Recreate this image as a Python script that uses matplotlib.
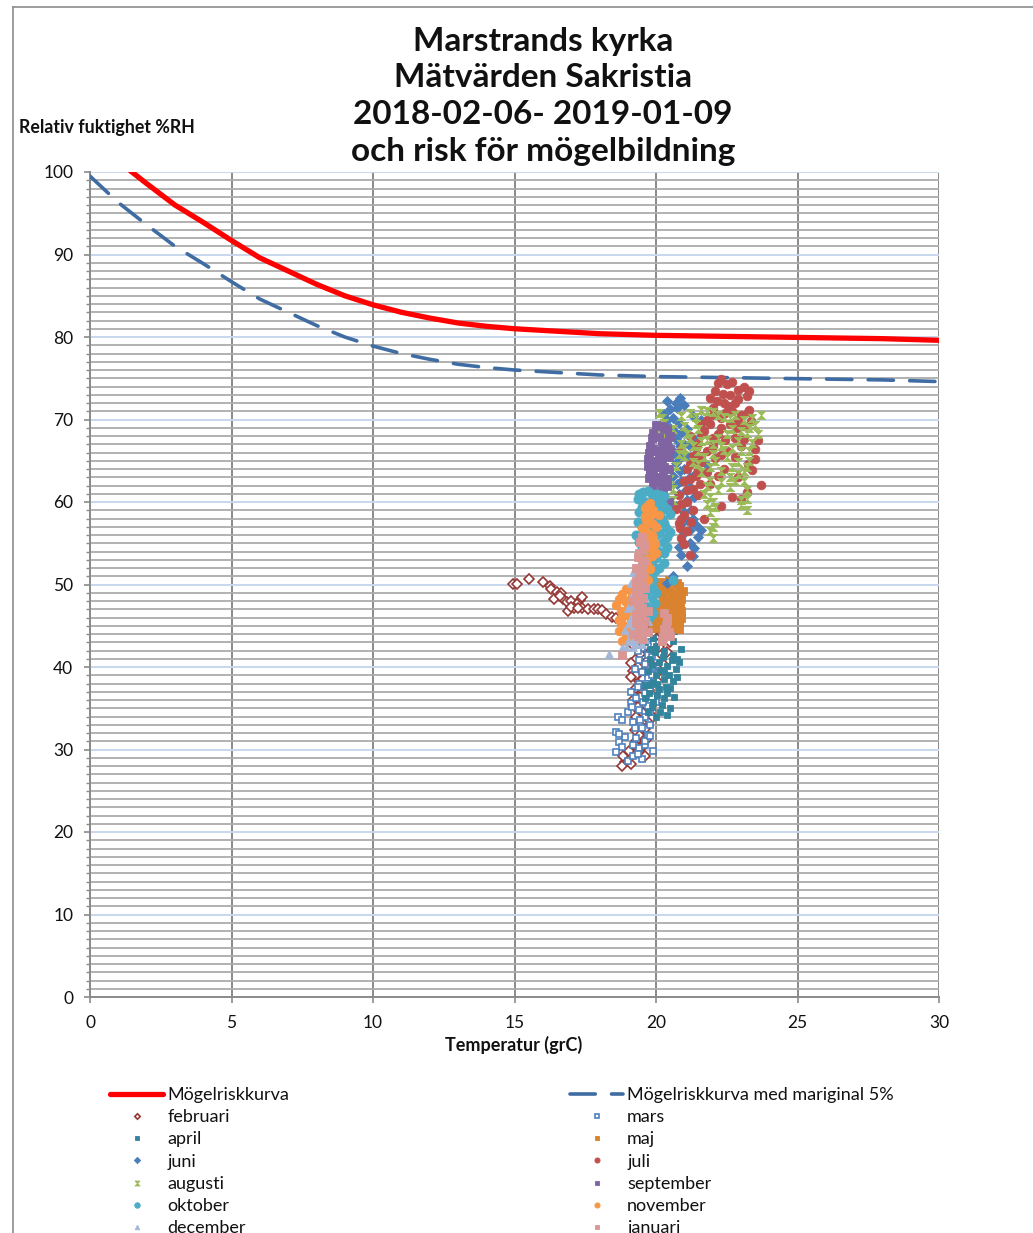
import matplotlib.pyplot as plt
import numpy as np
from matplotlib.lines import Line2D
from matplotlib.ticker import MultipleLocator

plt.rcParams["font.family"] = ["Lato", "DejaVu Sans"]

# Mould risk curve and the same curve with 5 % margin (temperature grC, RH %)
curve_t = [0, 1, 2, 3, 4, 5, 6, 7, 8, 9, 10, 11, 12, 13, 14, 15, 16, 17, 18, 19, 20, 22, 24, 26, 28, 30]
risk_rh = [104.5, 101.3, 98.6, 96.0, 93.9, 91.7, 89.6, 88.0, 86.4, 85.0, 83.9, 83.0, 82.3, 81.7, 81.3,
           81.0, 80.8, 80.6, 80.4, 80.3, 80.2, 80.1, 80.0, 79.9, 79.8, 79.6]
margin_rh = [99.5, 96.3, 93.6, 91.0, 88.9, 86.7, 84.6, 83.0, 81.4, 80.0, 78.9, 78.0, 77.3, 76.7, 76.3,
             76.0, 75.8, 75.6, 75.4, 75.3, 75.2, 75.1, 75.0, 74.9, 74.8, 74.6]

# Measured values per month (temperature, RH)
februari = [(14.95, 50.1), (15.1, 50.1), (15.5, 50.7), (16.0, 50.3), (16.25, 49.8), (16.3, 49.4),
            (16.5, 49.1), (16.65, 49.0), (16.4, 48.2), (16.7, 48.3), (16.85, 47.9), (17.0, 48.0),
            (17.3, 48.1), (17.4, 48.5), (17.2, 47.6), (16.9, 46.8), (17.1, 47.2), (17.4, 47.1),
            (17.6, 47.0), (17.8, 47.0), (17.95, 47.0), (18.1, 46.9), (18.25, 46.4), (18.45, 46.1),
            (18.6, 45.9), (16.6, 48.6), (17.0, 47.3), (17.25, 47.2), (18.75, 45.8),
            (19.5, 46.2), (19.7, 45.6), (19.4, 45.0), (19.6, 44.5), (19.9, 44.2), (20.2, 43.3),
            (20.5, 43.0), (19.3, 43.8), (19.5, 43.0), (19.4, 42.2), (19.7, 41.6), (19.3, 41.0),
            (19.5, 40.2), (19.2, 39.5), (19.6, 39.0), (19.4, 38.3), (19.3, 37.5), (19.5, 36.8),
            (19.2, 36.0), (19.6, 35.4), (19.4, 34.7), (19.3, 34.0), (19.5, 33.2), (19.6, 32.5),
            (19.4, 31.8), (19.3, 31.0), (19.5, 30.3), (19.2, 29.6), (19.0, 29.0), (18.9, 28.5),
            (18.8, 28.0), (19.1, 28.2), (19.3, 39.0), (19.7, 42.8), (20.0, 41.0), (20.3, 40.2),
            (19.8, 38.0), (19.1, 40.5), (19.9, 36.5), (20.2, 44.0), (20.1, 42.4), (19.2, 44.6),
            (19.35, 45.5), (19.55, 44.0), (19.75, 43.4), (19.45, 41.6), (19.65, 40.6), (19.35, 40.0),
            (19.55, 38.6), (19.75, 37.2), (19.45, 36.4), (19.35, 35.2), (19.55, 34.4), (19.45, 33.0),
            (19.65, 31.2), (19.35, 30.0), (19.25, 32.4), (19.7, 36.0), (19.85, 39.5), (19.1, 38.8),
            (19.15, 42.8), (19.25, 30.6), (19.0, 28.8), (18.85, 29.2), (19.05, 29.8), (20.0, 45.2),
            (20.4, 41.8), (20.25, 38.8), (19.9, 34.0), (19.6, 29.2), (20.35, 44.6), (19.95, 43.0)]
mars = [(18.65, 33.9), (18.8, 33.6), (18.6, 32.1), (18.7, 30.9), (18.8, 30.3), (18.6, 29.7),
        (19.1, 35.6), (19.0, 28.6), (19.2, 29.2), (19.4, 30.2), (19.6, 30.6), (19.3, 31.4),
        (19.7, 31.8), (19.5, 32.6), (19.2, 33.3), (19.6, 34.0), (19.4, 34.8), (19.7, 35.3),
        (19.3, 36.2), (19.6, 36.9), (19.8, 37.5), (19.4, 38.0), (19.7, 38.7), (19.5, 39.4),
        (19.9, 40.0), (19.4, 40.8), (19.7, 41.5), (19.5, 42.3), (19.9, 42.8), (19.3, 43.5),
        (19.6, 44.0), (20.0, 39.2), (19.1, 37.0), (18.9, 31.5), (19.8, 33.0), (20.0, 35.8),
        (19.5, 28.8), (19.35, 29.5), (19.6, 31.0), (19.8, 31.6), (19.25, 32.6), (19.45, 33.6),
        (19.8, 34.6), (19.55, 35.8), (19.85, 36.4), (19.35, 37.6), (19.65, 37.9), (19.85, 39.0),
        (19.25, 39.8), (19.6, 40.4), (19.85, 41.2), (19.35, 42.0), (19.7, 42.5), (19.45, 43.2),
        (19.75, 43.8), (19.2, 30.5), (19.0, 34.5), (18.7, 31.9), (19.9, 29.8), (19.15, 35.2)]
april = [(19.6, 43.0), (19.9, 43.5), (20.2, 44.0), (20.5, 44.6), (20.8, 45.0), (20.85, 45.6),
         (20.6, 45.9), (20.4, 46.2), (20.0, 42.5), (20.3, 42.0), (20.6, 41.5), (19.8, 41.0),
         (20.1, 40.6), (20.4, 40.1), (20.7, 39.8), (19.7, 39.5), (20.0, 39.0), (20.3, 38.6),
         (20.6, 38.3), (19.8, 37.8), (20.1, 37.3), (20.4, 36.8), (19.6, 36.3), (19.9, 35.8),
         (20.2, 35.4), (20.5, 35.0), (19.7, 34.5), (20.0, 34.0), (19.8, 42.2), (20.6, 43.2),
         (20.8, 40.6), (20.5, 37.4), (20.2, 45.3), (20.3, 39.4), (19.9, 38.2),
         (20.0, 44.6), (20.35, 45.0), (20.65, 44.4), (19.95, 41.8), (20.25, 41.2), (20.55, 40.8),
         (20.75, 41.0), (19.85, 40.2), (20.15, 39.6), (20.45, 39.0), (20.75, 38.8), (20.05, 37.9),
         (20.35, 37.6), (19.75, 36.9), (20.05, 36.6), (20.3, 36.2), (20.65, 36.4), (19.85, 35.1),
         (20.15, 34.6), (20.4, 34.2), (19.6, 37.8), (20.9, 42.2)]
maj = [(20.0, 49.6), (20.3, 50.0), (20.6, 50.3), (20.8, 49.8), (20.5, 49.2), (20.2, 48.9),
       (20.7, 48.7), (20.9, 48.3), (20.4, 48.0), (20.1, 47.6), (20.6, 47.4), (20.85, 47.0),
       (20.3, 46.8), (20.7, 46.4), (20.0, 46.0), (20.5, 45.8), (20.8, 45.5), (20.2, 45.2),
       (20.6, 44.8), (20.9, 46.0), (20.4, 47.2), (20.1, 49.0), (19.9, 45.0), (20.3, 44.5),
       (20.15, 50.3), (20.45, 50.6), (20.75, 50.2), (20.95, 49.2), (20.35, 49.4), (20.65, 48.9),
       (20.25, 48.3), (20.55, 48.2), (20.85, 48.0), (20.0, 47.2), (20.35, 47.6), (20.75, 47.6),
       (20.15, 46.6), (20.5, 46.5), (20.9, 46.8), (20.3, 45.6), (20.65, 45.6), (20.05, 44.7),
       (20.45, 44.4), (20.8, 44.6)]
juni = [(20.85, 72.6), (20.7, 72.0), (21.0, 71.8), (20.5, 71.3), (20.3, 70.7), (20.6, 70.2),
        (20.2, 69.5), (20.5, 69.0), (21.3, 70.4), (21.6, 70.0), (20.9, 68.4), (20.7, 67.6),
        (21.0, 67.0), (20.6, 66.2), (20.9, 65.5), (21.2, 66.8), (20.7, 64.7), (21.0, 64.0),
        (20.6, 63.2), (20.9, 62.5), (21.2, 61.8), (20.8, 61.0), (21.1, 60.3), (20.7, 59.5),
        (21.0, 58.8), (21.3, 58.0), (20.9, 57.3), (21.2, 56.6), (21.5, 55.8), (21.2, 55.0),
        (20.8, 54.6), (20.5, 59.0), (21.4, 63.5), (22.0, 67.2), (21.8, 64.5), (20.4, 67.0),
        (21.3, 53.5), (21.1, 52.2), (20.6, 51.0), (20.4, 50.2),
        (20.4, 72.2), (20.75, 71.4), (20.4, 70.0), (20.8, 69.6), (20.35, 68.2), (20.65, 68.6),
        (21.1, 68.9), (20.85, 66.8), (21.1, 65.6), (20.75, 65.6), (21.3, 67.8), (20.85, 63.8),
        (21.2, 63.0), (20.75, 62.2), (21.05, 61.4), (21.35, 60.6), (20.95, 59.8), (21.25, 59.0),
        (21.1, 57.8), (21.4, 57.2), (21.0, 56.2), (21.35, 54.4), (20.9, 53.6), (21.6, 56.6)]
juli = [(22.3, 74.9), (22.5, 74.3), (23.1, 74.0), (22.1, 73.5), (22.6, 73.0), (22.9, 72.5),
        (22.4, 72.0), (23.2, 72.8), (22.0, 71.4), (22.7, 71.0), (23.0, 70.5), (22.3, 70.2),
        (21.8, 70.0), (22.6, 69.5), (23.1, 69.2), (21.7, 68.6), (22.2, 68.2), (22.8, 67.8),
        (21.5, 67.2), (22.0, 66.8), (22.5, 66.2), (23.0, 66.8), (21.3, 65.6), (21.6, 64.8),
        (21.1, 64.0), (21.4, 63.2), (21.0, 62.5), (21.3, 61.6), (20.8, 60.8), (21.1, 60.0),
        (20.7, 59.2), (21.0, 58.4), (20.8, 57.4), (21.1, 56.5), (20.9, 55.6), (21.3, 65.0),
        (23.4, 63.9), (23.7, 62.1), (23.5, 65.2), (23.0, 60.4), (22.4, 64.0), (21.9, 62.2),
        (22.3, 59.5), (21.7, 58.0), (22.9, 63.0), (21.6, 69.4), (23.3, 71.2), (20.9, 66.4),
        (22.1, 65.3), (21.2, 68.0), (23.6, 67.5),
        (22.2, 74.4), (22.7, 74.6), (22.9, 73.6), (22.35, 73.1), (22.8, 72.0), (23.3, 73.4),
        (21.9, 72.6), (22.15, 72.2), (22.55, 71.6), (23.25, 70.9), (22.0, 70.6), (22.45, 70.8),
        (22.9, 70.0), (21.9, 69.4), (22.3, 69.0), (22.85, 69.0), (23.35, 69.8), (21.6, 68.2),
        (22.0, 67.8), (22.45, 67.5), (23.1, 67.6), (21.4, 66.5), (21.8, 66.2), (22.3, 65.7),
        (22.8, 65.4), (21.6, 65.6), (21.2, 64.6), (21.5, 63.9), (21.8, 63.6), (22.2, 63.2),
        (21.2, 62.8), (21.55, 62.2), (21.1, 61.4), (21.5, 60.8), (20.9, 59.8), (21.3, 59.0),
        (20.9, 58.0), (21.25, 57.6), (20.85, 56.8), (21.0, 54.9), (21.2, 53.6), (23.25, 64.6),
        (23.5, 66.4), (23.2, 61.2), (22.7, 60.6)]
augusti = [(20.1, 70.8), (20.3, 69.6), (20.0, 68.5), (20.4, 67.4), (21.0, 69.2), (21.4, 70.3),
           (21.8, 71.0), (22.2, 70.6), (22.6, 70.2), (23.1, 70.0), (23.7, 70.6), (23.5, 69.3),
           (23.2, 68.4), (23.4, 67.2), (23.0, 66.2), (23.3, 65.0), (23.1, 63.8), (22.8, 62.6),
           (23.2, 61.5), (23.0, 60.2), (23.2, 59.0), (22.7, 64.3), (22.4, 66.3), (22.1, 65.0),
           (21.8, 67.5), (21.5, 66.2), (21.2, 67.8), (21.0, 66.5), (20.8, 65.8), (21.3, 64.8),
           (21.6, 63.6), (21.9, 62.6), (21.7, 61.0), (22.0, 60.0), (21.9, 58.8), (22.1, 57.6),
           (21.9, 56.5), (22.0, 55.6), (22.5, 68.3), (22.9, 67.4), (22.2, 67.8), (20.7, 64.4),
           (20.5, 62.8), (20.3, 61.5), (20.6, 60.2), (21.5, 68.8), (22.6, 63.0), (23.6, 68.2),
           (22.3, 62.4),
           (20.2, 70.2), (20.15, 69.0), (20.3, 68.0), (20.6, 68.9), (20.9, 70.4), (21.2, 70.8),
           (21.6, 71.2), (22.0, 70.9), (22.4, 70.3), (22.8, 70.6), (23.4, 70.2), (23.3, 69.0),
           (23.0, 68.6), (22.7, 68.9), (21.4, 69.4), (21.1, 68.3), (21.6, 67.4), (22.0, 67.0),
           (22.3, 66.8), (22.7, 66.6), (23.3, 66.2), (21.3, 66.8), (21.0, 65.6), (21.7, 65.4),
           (22.0, 65.8), (22.5, 65.4), (22.9, 64.8), (23.2, 64.2), (21.5, 64.6), (21.9, 64.2),
           (22.3, 63.8), (22.9, 63.4), (21.8, 62.0), (22.2, 61.4), (22.6, 61.8), (23.1, 62.6),
           (21.9, 60.6), (22.1, 59.4), (21.8, 59.8), (23.0, 59.6), (23.2, 60.4), (22.0, 57.0),
           (20.4, 64.0), (20.6, 61.6), (20.9, 67.0)]
september = [(20.2, 69.2), (20.4, 68.8), (19.9, 68.4), (20.1, 67.9), (20.4, 67.3), (19.8, 66.8),
             (20.0, 66.2), (20.3, 65.8), (19.7, 65.2), (20.0, 64.7), (20.3, 64.2), (19.8, 63.6),
             (20.1, 63.0), (19.9, 62.4), (20.2, 61.8), (20.0, 61.0), (20.3, 60.5), (19.8, 64.0),
             (20.5, 66.4), (20.4, 62.8), (20.1, 59.8), (20.3, 59.2), (20.5, 68.0), (19.9, 60.2),
             (20.0, 69.3), (20.3, 69.0), (19.85, 67.8), (20.2, 67.2), (20.45, 67.9), (19.9, 66.4),
             (20.25, 66.6), (19.75, 66.0), (20.1, 65.6), (20.45, 65.4), (19.85, 65.0), (20.2, 64.9),
             (19.7, 64.4), (20.1, 64.2), (20.45, 64.0), (19.9, 63.3), (20.25, 63.4), (19.75, 62.9),
             (20.1, 62.4), (20.4, 62.0), (19.9, 61.6), (20.25, 61.2), (20.1, 60.6), (20.45, 60.0)]
oktober = [(19.4, 61.0), (19.7, 61.3), (20.0, 61.0), (20.3, 60.7), (19.5, 60.2), (19.8, 59.8),
           (20.1, 59.6), (20.4, 59.2), (19.4, 58.8), (19.7, 58.3), (20.0, 58.0), (20.3, 57.5),
           (19.5, 57.0), (19.8, 56.6), (20.1, 56.2), (20.4, 55.7), (19.4, 55.2), (19.7, 54.7),
           (20.0, 54.3), (20.3, 53.8), (19.5, 53.2), (19.8, 52.6), (20.1, 52.0), (19.6, 51.3),
           (19.9, 50.6), (19.7, 49.8), (20.0, 49.0), (19.8, 48.2), (19.6, 47.4), (19.9, 46.6),
           (19.7, 45.8), (20.4, 54.6), (20.5, 58.5), (19.3, 56.0), (20.6, 50.5), (19.8, 51.8),
           (19.55, 61.2), (19.85, 61.0), (20.15, 60.9), (19.35, 60.4), (19.65, 60.0), (20.0, 60.2),
           (20.25, 59.6), (19.5, 59.4), (19.85, 59.2), (20.15, 58.8), (19.6, 58.6), (19.9, 57.9),
           (20.2, 57.9), (19.35, 57.6), (19.65, 57.4), (20.35, 56.8), (19.6, 56.2), (19.95, 55.9),
           (20.25, 55.2), (19.5, 54.6), (19.85, 54.2), (20.15, 54.0), (19.65, 53.6), (20.0, 53.2),
           (19.45, 52.0), (19.95, 51.6), (19.7, 50.8), (19.9, 49.6), (19.65, 48.8), (19.95, 47.8),
           (19.75, 47.0), (19.8, 46.2), (20.3, 52.6), (20.5, 56.4)]
november = [(19.7, 59.6), (19.9, 59.0), (19.6, 58.3), (19.8, 57.6), (20.0, 57.0), (19.7, 56.3),
            (19.9, 55.6), (19.6, 55.0), (19.8, 54.4), (20.0, 53.8), (19.7, 53.2), (19.5, 52.5),
            (19.8, 51.9), (19.5, 51.2), (19.7, 50.5), (19.4, 49.8), (19.1, 49.2), (18.8, 48.8),
            (18.9, 48.0), (19.2, 47.4), (18.9, 46.8), (18.8, 46.1), (19.1, 45.6), (18.9, 45.0),
            (18.7, 44.4), (19.0, 43.8), (19.3, 44.6), (19.2, 46.4), (19.4, 47.8), (18.8, 43.2),
            (19.5, 56.8), (20.1, 58.4), (19.3, 45.2), (18.6, 47.5),
            (19.8, 59.9), (19.6, 59.3), (19.85, 58.6), (19.65, 57.8), (19.9, 57.3), (19.6, 56.7),
            (19.85, 56.0), (19.7, 55.3), (19.95, 54.9), (19.65, 54.4), (19.85, 53.5), (19.6, 53.0),
            (19.7, 52.2), (19.55, 51.7), (19.6, 50.9), (19.45, 50.3), (19.2, 49.6), (18.95, 49.4),
            (18.7, 48.2), (19.1, 48.4), (19.0, 47.5), (18.75, 46.8), (19.05, 46.7), (18.95, 46.3),
            (19.2, 45.9), (18.75, 45.3), (19.05, 44.9), (18.85, 44.4), (19.2, 44.2), (18.95, 43.6),
            (19.15, 43.3), (18.7, 45.7), (19.3, 48.6), (19.55, 55.6)]
december = [(19.2, 51.5), (19.4, 50.8), (19.1, 50.2), (19.5, 49.6), (19.2, 49.0), (19.6, 48.4),
            (19.3, 47.8), (19.0, 47.2), (19.4, 46.6), (19.1, 46.0), (19.5, 45.4), (19.2, 44.8),
            (19.6, 44.2), (19.3, 43.6), (19.0, 43.1), (19.5, 42.8), (18.35, 41.6), (18.8, 42.3),
            (19.2, 42.4), (19.7, 45.6), (18.9, 44.5), (19.4, 52.4),
            (19.3, 51.9), (19.25, 50.5), (19.45, 50.1), (19.35, 49.3), (19.15, 48.6), (19.45, 48.0),
            (19.15, 47.3), (19.5, 47.0), (19.25, 46.3), (19.35, 45.8), (19.05, 45.3), (19.4, 44.9),
            (19.1, 44.1), (19.45, 43.9), (19.2, 43.3), (19.6, 43.4), (19.3, 42.8), (18.95, 42.4),
            (19.55, 46.2), (19.4, 51.2)]
januari = [(19.5, 55.8), (19.6, 54.8), (19.4, 53.8), (19.6, 52.8), (19.3, 52.0), (19.5, 51.2),
           (19.3, 50.4), (19.6, 49.6), (19.4, 48.8), (19.2, 48.0), (19.5, 47.2), (19.3, 46.4),
           (19.6, 45.6), (19.4, 44.8), (19.2, 44.0), (19.5, 43.4), (20.3, 46.5), (20.4, 45.6),
           (20.3, 44.6), (20.5, 43.8), (20.2, 43.2), (18.8, 41.5), (19.7, 46.8), (19.3, 49.5),
           (19.45, 55.2), (19.55, 54.2), (19.35, 53.3), (19.5, 52.4), (19.45, 51.6), (19.4, 50.8),
           (19.5, 49.9), (19.3, 49.0), (19.55, 48.4), (19.35, 47.6), (19.45, 46.8), (19.5, 46.0),
           (19.3, 45.3), (19.55, 44.6), (19.35, 43.8), (20.4, 46.0), (20.35, 45.1), (20.45, 44.2),
           (20.25, 43.6), (19.7, 44.2)]

bowtie = [(-1, 1), (1, 1), (-1, -1), (1, -1), (-1, 1)]

# name, points, marker, colour, hollow, size
series = [
    ("februari", februari, "D", "#953735", True, 4.6),
    ("mars", mars, "s", "#4F81BD", True, 4.2),
    ("april", april, "s", "#31849B", False, 4.6),
    ("maj", maj, "s", "#D9822F", False, 5.6),
    ("juni", juni, "D", "#4A7EBB", False, 5.4),
    ("juli", juli, "o", "#C0504D", False, 6.2),
    ("augusti", augusti, bowtie, "#9BBB59", False, 6.0),
    ("september", september, "s", "#8064A2", False, 5.8),
    ("oktober", oktober, "o", "#4BACC6", False, 6.6),
    ("november", november, "o", "#F79646", False, 6.2),
    ("december", december, "^", "#A5B7D8", False, 5.6),
    ("januari", januari, "s", "#D99694", False, 5.6),
]

fig = plt.figure(figsize=(10.33, 12.33), dpi=100)
W, H = 1033, 1233
ax = fig.add_axes([90 / W, 1 - 997 / H, 849 / W, 825 / H])

risk_line, = ax.plot(curve_t, risk_rh, color="#FF0000", lw=3.8, solid_capstyle="round",
                     label="Mögelriskkurva", zorder=3)
margin_line, = ax.plot(curve_t, margin_rh, color="#3F6CA3", lw=2.6, linestyle=(0, (7, 4.5)),
                       dash_capstyle="round", label="Mögelriskkurva med mariginal 5%", zorder=3)

handles = {}
for name, pts, marker, color, hollow, ms in series:
    arr = np.array(pts)
    h, = ax.plot(arr[:, 0], arr[:, 1], ls="none", marker=marker, ms=ms, color=color,
                 markerfacecolor="white" if hollow else color, markeredgecolor=color,
                 markeredgewidth=1.2 if hollow else 0.6, label=name, zorder=4)
    handles[name] = h

ax.set_xlim(0, 30)
ax.set_ylim(0, 100)
ax.xaxis.set_major_locator(MultipleLocator(5))
ax.yaxis.set_major_locator(MultipleLocator(10))
ax.yaxis.set_minor_locator(MultipleLocator(1))
ax.grid(axis="x", which="major", color="#8A8A8A", lw=1.4)
ax.grid(axis="y", which="major", color="#C9D7EE", lw=1.4)
ax.grid(axis="y", which="minor", color="#ABABAB", lw=1.3)
ax.set_axisbelow(True)
for side in ("top", "right"):
    ax.spines[side].set_visible(False)
for side in ("left", "bottom"):
    ax.spines[side].set_color("#8A8A8A")
    ax.spines[side].set_linewidth(1.4)
ax.tick_params(axis="both", which="major", direction="out", length=4, width=1.2, color="#8A8A8A",
               labelsize=12.5, labelcolor="#111111")
ax.tick_params(axis="y", which="minor", direction="out", length=3, width=1.0, color="#8A8A8A")
ax.tick_params(axis="y", pad=8)
ax.tick_params(axis="x", pad=9)

# Titles
title_lines = ["Marstrands kyrka", "Mätvärden Sakristia", "2018-02-06- 2019-01-09",
               "och risk för mögelbildning"]
for i, line in enumerate(title_lines):
    fig.text(543 / W, 1 - (41 + 36.8 * i) / H, line, ha="center", va="center",
             fontsize=24, fontweight="bold", color="#111111")
fig.text(19 / W, 1 - 128 / H, "Relativ fuktighet %RH", ha="left", va="center",
         fontsize=12.8, fontweight="bold", color="#111111")
fig.text(514 / W, 1 - 1045 / H, "Temperatur (grC)", ha="center", va="center",
         fontsize=13, fontweight="bold", color="#111111")

# Frame around the chart area
fig.add_artist(Line2D([13 / W, 13 / W], [0, 1 - 7 / H], transform=fig.transFigure,
                      color="#8C8C8C", lw=1.2))
fig.add_artist(Line2D([13 / W, 1], [1 - 7 / H, 1 - 7 / H], transform=fig.transFigure,
                      color="#8C8C8C", lw=1.2))

# Legend in two columns, filled row by row
left_names = ["februari", "april", "juni", "augusti", "oktober", "december"]
right_names = ["mars", "maj", "juli", "september", "november", "januari"]
legend_kw = dict(loc="upper left", frameon=False, fontsize=13, handlelength=2.95,
                 handletextpad=0.22, labelspacing=0.345, borderpad=0, borderaxespad=0,
                 numpoints=1, markerscale=0.6)
leg1 = fig.legend([risk_line] + [handles[n] for n in left_names],
                  ["Mögelriskkurva"] + left_names,
                  bbox_to_anchor=(110 / W, 1 - 1087 / H), **legend_kw)
leg2 = fig.legend([margin_line] + [handles[n] for n in right_names],
                  ["Mögelriskkurva med mariginal 5%"] + right_names,
                  bbox_to_anchor=(570 / W, 1 - 1087 / H), **legend_kw)
for leg in (leg1, leg2):
    for t in leg.get_texts():
        t.set_color("#111111")

fig.savefig("out.png", dpi=100)
